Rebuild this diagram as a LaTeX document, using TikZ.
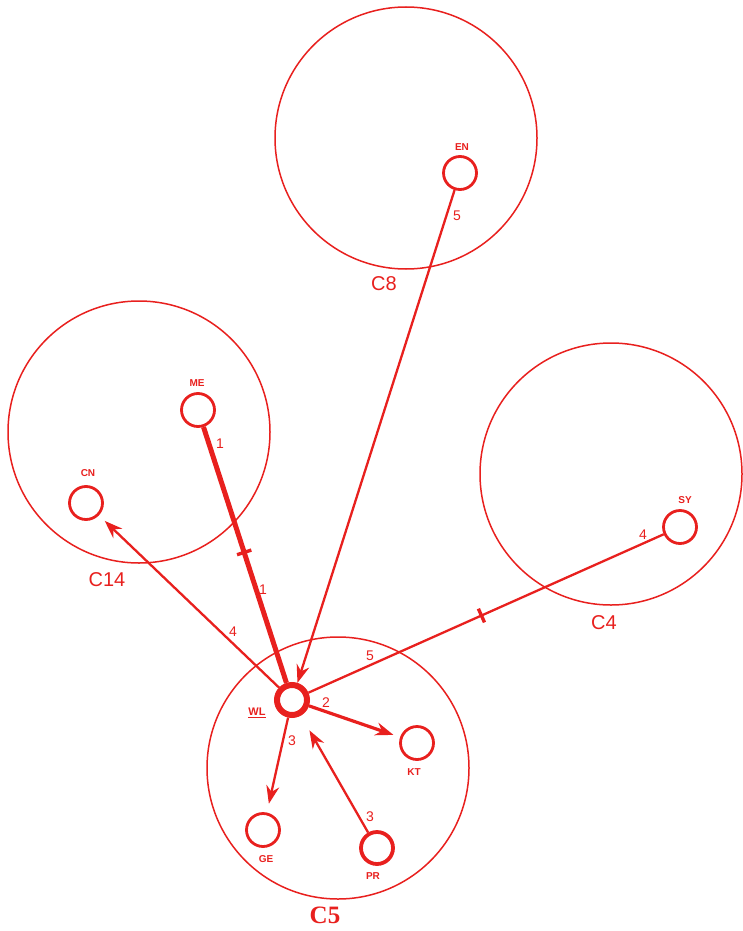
\documentclass[tikz,border=0pt]{standalone}
\usepackage{fontspec}
\setmainfont{Liberation Sans}
\newfontfamily\serifC{Liberation Serif}
\usetikzlibrary{arrows.meta}
\definecolor{rd}{RGB}{232,32,30}
\tikzset{
  bigc/.style={draw=rd, line width=1.5pt, circle, minimum size=262pt, inner sep=0pt},
  smallc/.style={draw=rd, line width=2.8pt, circle, minimum size=33pt, inner sep=0pt},
  lbl/.style={text=rd, font=\bfseries\fontsize{10}{10}\selectfont, inner sep=0pt},
  num/.style={text=rd, font=\fontsize{14}{14}\selectfont, inner sep=0pt},
  clbl/.style={text=rd, font=\fontsize{20}{20}\selectfont, inner sep=0pt},
  conn/.style={draw=rd, line width=2.3pt},
  arr/.style={conn, -{Stealth[length=18pt,width=13pt]}},
  tickm/.style={sloped, fill=rd, inner sep=0pt, minimum width=3.4pt, minimum height=15pt}
}
\begin{document}
\begin{tikzpicture}[x=1pt,y=-1pt]
\useasboundingbox (0,0) rectangle (742,931);
% big circles
\node[bigc] (C8) at (406,138) {};
\node[bigc] (C14) at (139,432) {};
\node[bigc] (C4) at (611,474) {};
\node[bigc] (C5) at (338,768) {};
% small circles
\node[smallc] (EN) at (460,173) {};
\node[smallc] (ME) at (198,410) {};
\node[smallc] (CN) at (86,503) {};
\node[smallc] (SY) at (680,527) {};
\node[draw=rd, line width=6pt, circle, minimum size=30pt, inner sep=0pt] (WL) at (292,700) {};
\node[smallc] (KT) at (417,743) {};
\node[smallc] (GE) at (263,830) {};
\node[smallc, line width=3.8pt, minimum size=32pt] (PR) at (377,848) {};
% labels of small circles
\node[lbl] (lEN) at (462,147) {EN};
\node[lbl] (lME) at (197,383) {ME};
\node[lbl] (lCN) at (88,473) {CN};
\node[lbl] (lSY) at (685,500) {SY};
\node[lbl, font=\bfseries\fontsize{11}{11}\selectfont] (lWL) at (257,713) {\underline{WL}};
\node[lbl] (lKT) at (414,772) {KT};
\node[lbl] (lGE) at (266,859) {GE};
\node[lbl] (lPR) at (373,876) {PR};
% labels of big circles
\node[clbl] (lC8) at (384,284) {C8};
\node[clbl] (lC14) at (107,580) {C14};
\node[clbl] (lC4) at (604,623) {C4};
\node[text=rd, font=\serifC\bfseries\fontsize{25}{25}\selectfont, inner sep=0pt] (lC5) at (325,915) {C5};
% connectors
\draw[conn, line width=5pt] (ME) -- node[tickm, pos=0.49] (t1) {} (WL);
\draw[conn] (WL) -- node[tickm, pos=0.487] (t2) {} (SY);
\draw[arr] (EN) -- (WL);
\draw[arr, shorten >=8pt] (WL) -- (CN);
\draw[arr, line width=3.2pt, shorten >=7pt] (WL) -- (KT);
\draw[arr, shorten >=9pt] (WL) -- (GE);
\draw[arr, shorten >=17pt] (PR) -- (WL);
% connector numbers
\node[num] (n1) at (220,444) {1};
\node[num] (n2) at (263,590) {1};
\node[num] (n3) at (233,632) {4};
\node[num] (n4) at (457,216) {5};
\node[num] (n5) at (370,656) {5};
\node[num] (n6) at (643,535) {4};
\node[num] (n7) at (326,703) {2};
\node[num] (n8) at (292,741) {3};
\node[num] (n9) at (370,817) {3};
\end{tikzpicture}
\end{document}
